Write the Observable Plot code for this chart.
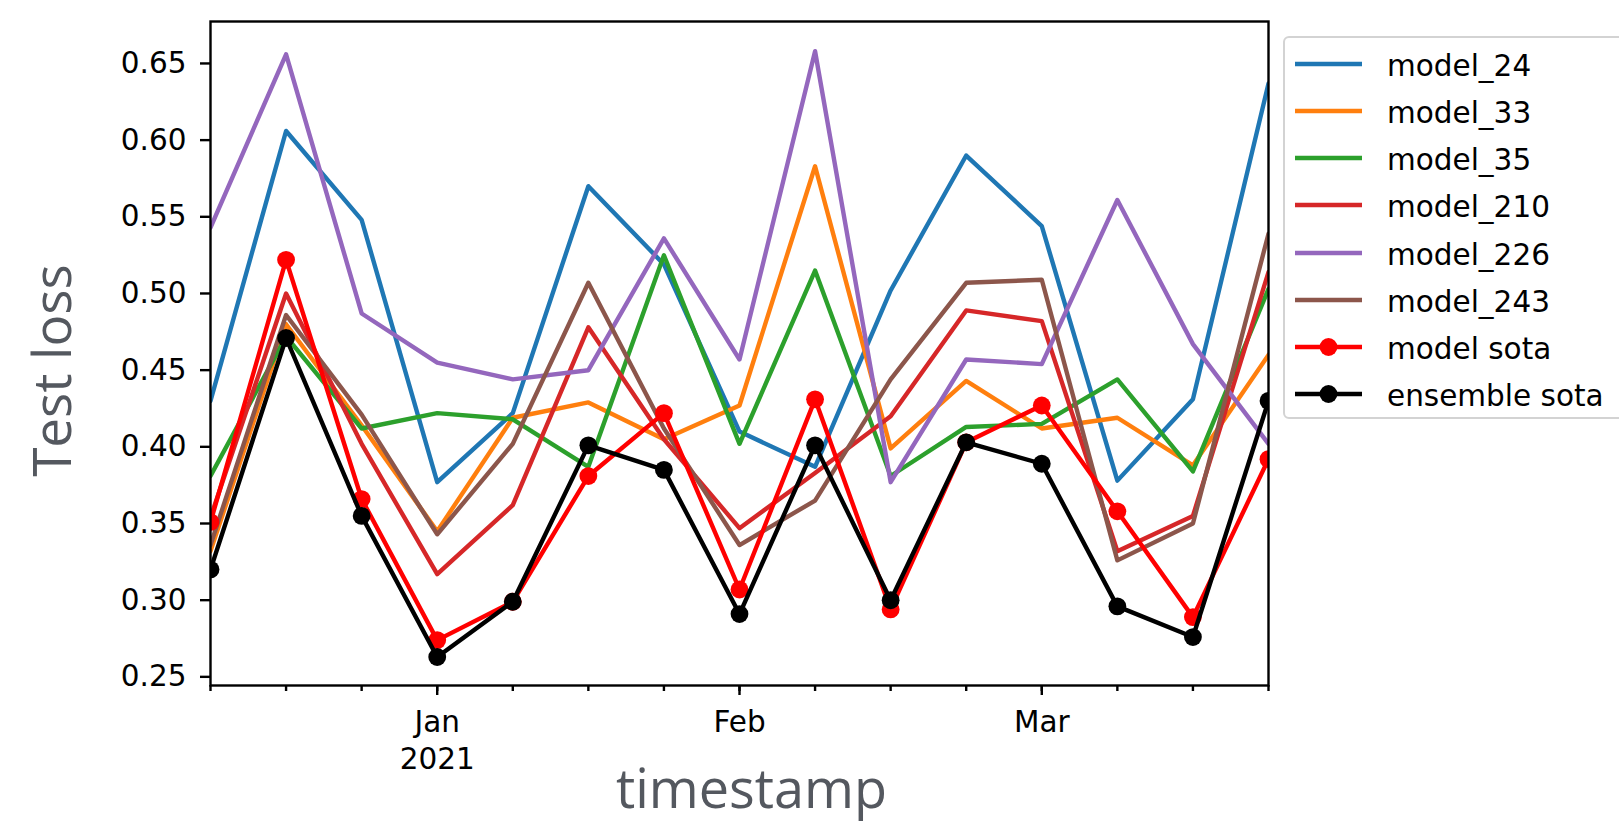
<!DOCTYPE html>
<html>
<head>
<meta charset="utf-8">
<script src="https://cdn.jsdelivr.net/npm/d3@7"></script>
<script src="https://cdn.jsdelivr.net/npm/@observablehq/plot@0.6"></script>
<style>
  html, body { margin: 0; padding: 0; background: white; }
  #wrap { position: relative; width: 1619px; height: 824px; overflow: hidden; background: white; }
  #legend { position: absolute; left: 1283px; top: 36px; width: 345px; height: 383px;
    border: 2px solid #d3d3d3; border-radius: 6px; box-sizing: border-box; background: rgba(255,255,255,0.8);
    font-family: "DejaVu Sans", sans-serif; font-size: 29.5px; color: black; }
  .row { position: absolute; left: 0; height: 40px; }
  .row svg { position: absolute; left: 10px; top: 0; }
  .row span { position: absolute; left: 102px; top: 2px; line-height: 40px; white-space: nowrap; }
</style>
</head>
<body>
<div id="wrap"><div id="chart"></div><div id="legend"></div></div>
<script>
// time steps (evenly spaced periods); month ticks fall on steps 3, 7, 11
const steps = [0,1,2,3,4,5,6,7,8,9,10,11,12,13,14];
const xTickSteps = [3, 7, 11];
const xTickLabels = ["Jan\n2021", "Feb", "Mar"];
const yTicks = [0.25, 0.30, 0.35, 0.40, 0.45, 0.50, 0.55, 0.60, 0.65];

const seriesNames = ["model_24","model_33","model_35","model_210","model_226","model_243","model sota","ensemble sota"];
const seriesColors = ["#1f77b4","#ff7f0e","#2ca02c","#d62728","#9467bd","#8c564b","#ff0000","#000000"];
const seriesMarkers = [false,false,false,false,false,false,true,true];

const model_24  = [0.428, 0.604, 0.546, 0.375, 0.420, 0.568, 0.517, 0.408, 0.385, 0.500, 0.588, 0.542, 0.376, 0.429, 0.635];
const model_33  = [0.330, 0.478, 0.412, 0.343, 0.417, 0.427, 0.403, 0.425, 0.581, 0.397, 0.441, 0.410, 0.417, 0.386, 0.458];
const model_35  = [0.379, 0.470, 0.410, 0.420, 0.416, 0.385, 0.523, 0.400, 0.513, 0.379, 0.411, 0.413, 0.442, 0.382, 0.501];
const model_210 = [0.352, 0.498, 0.400, 0.315, 0.360, 0.476, 0.403, 0.345, 0.381, 0.418, 0.487, 0.480, 0.330, 0.353, 0.512];
const model_226 = [0.541, 0.654, 0.485, 0.453, 0.442, 0.448, 0.534, 0.455, 0.656, 0.375, 0.455, 0.452, 0.559, 0.465, 0.400];
const model_243 = [0.334, 0.484, 0.419, 0.341, 0.400, 0.505, 0.410, 0.334, 0.363, 0.442, 0.505, 0.507, 0.324, 0.348, 0.537];
const model_sota    = [0.349, 0.520, 0.364, 0.272, 0.297, 0.379, 0.420, 0.305, 0.429, 0.292, 0.401, 0.425, 0.356, 0.287, 0.390];
const ensemble_sota = [0.318, 0.469, 0.353, 0.261, 0.297, 0.399, 0.383, 0.289, 0.399, 0.298, 0.401, 0.387, 0.294, 0.274, 0.428];

const seriesValues = [model_24, model_33, model_35, model_210, model_226, model_243, model_sota, ensemble_sota];

const marks = [];
seriesValues.forEach((vals, k) => {
  const data = steps.map((s, i) => ({step: s, value: vals[i]}));
  marks.push(Plot.line(data, {x: "step", y: "value", stroke: seriesColors[k], strokeWidth: 4.4, clip: true}));
  if (seriesMarkers[k]) {
    marks.push(Plot.dot(data, {x: "step", y: "value", r: 8.9, fill: seriesColors[k], stroke: "none", clip: true}));
  }
});

const tickLabelMap = new Map(xTickSteps.map((s, i) => [s, xTickLabels[i]]));

const chart = Plot.plot({
  width: 1619,
  height: 824,
  marginLeft: 210,
  marginRight: 351,
  marginTop: 21,
  marginBottom: 139,
  style: {fontFamily: "DejaVu Sans, sans-serif", fontSize: "29.5px", background: "white", color: "black"},
  x: {type: "linear", domain: [0, 14]},
  y: {domain: [0.2424, 0.6754]},
  marks: [
    ...marks,
    Plot.frame({stroke: "black", strokeWidth: 2.4}),
    Plot.axisY({ticks: yTicks, tickFormat: d3.format(".2f"), tickSize: 10, tickPadding: 14, strokeWidth: 2.4, fontSize: 29.5, dy: 3, label: null}),
    Plot.axisX({ticks: steps, tickFormat: () => "", tickSize: 6, strokeWidth: 2.4, label: null}),
    Plot.axisX({ticks: xTickSteps, tickFormat: d => tickLabelMap.get(d), tickSize: 10, tickPadding: 10, strokeWidth: 2.4, fontSize: 29.5, lineHeight: 1.26, label: null}),
    Plot.text(["Test loss"], {frameAnchor: "left", dx: -156, dy: 17, rotate: -90, fontSize: 53, fill: "#54585f", fontFamily: "Open Sans", textAnchor: "middle"}),
    Plot.text(["timestamp"], {frameAnchor: "bottom", dx: 12, dy: 122, fontSize: 54, fill: "#54585f", fontFamily: "Open Sans", textAnchor: "middle"})
  ]
});
document.getElementById("chart").appendChild(chart);

// legend built from the series arrays
const legend = document.getElementById("legend");
seriesNames.forEach((name, k) => {
  const row = document.createElement("div");
  row.className = "row";
  row.style.top = (25.7 - 20 + k * 47.2) + "px";
  const svg = d3.create("svg").attr("width", 70).attr("height", 40);
  svg.append("line").attr("x1", 0).attr("x2", 67).attr("y1", 20).attr("y2", 20)
    .attr("stroke", seriesColors[k]).attr("stroke-width", 4.4);
  if (seriesMarkers[k]) svg.append("circle").attr("cx", 33.5).attr("cy", 20).attr("r", 8.9).attr("fill", seriesColors[k]);
  row.appendChild(svg.node());
  const span = document.createElement("span");
  span.textContent = name;
  row.appendChild(span);
  legend.appendChild(row);
});
</script>
</body>
</html>
